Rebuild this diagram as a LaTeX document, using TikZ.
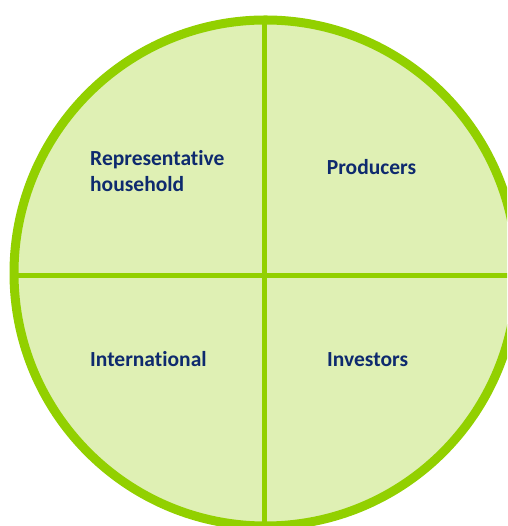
\documentclass[tikz,border=0pt]{standalone}
\usepackage{fontspec}
\setmainfont{Carlito}[Ligatures={NoCommon}]
\usetikzlibrary{shapes.geometric}
\definecolor{ringgreen}{RGB}{146,208,0}
\definecolor{fillgreen}{RGB}{223,240,180}
\definecolor{labelblue}{RGB}{14,42,110}
\tikzset{
  quadlabel/.style={font=\bfseries\fontsize{21.5}{26}\selectfont, text=labelblue, inner sep=0pt, align=left},
  divider/.style={draw=ringgreen}
}
\begin{document}
\begin{tikzpicture}[x=1pt,y=1pt]
\useasboundingbox (0,0) rectangle (507,526);
\clip (0,0) rectangle (507,526);
\fill[white] (0,0) rectangle (507,526);
\node[ellipse, fill=fillgreen, minimum width=503pt, minimum height=506pt, inner sep=0pt] (disc) at (265.5,253) {};
\coordinate (vtop) at (264.5,510);
\coordinate (vbot) at (264.5,-10);
\coordinate (hleft) at (15,250.7);
\coordinate (hright) at (520,250.7);
\draw[divider, line width=4.6pt] (vtop) -- (vbot);
\draw[divider, line width=5pt] (hleft) -- (hright);
\draw[draw=ringgreen, line width=9pt] (disc.center) ellipse [x radius=251.5pt, y radius=253pt];
\node[quadlabel, anchor=base west] (household) at (90,334.3) {Representative\\household};
\node[quadlabel, anchor=base west] (producers) at (326.7,351.7) {Producers};
\node[quadlabel, anchor=base west] (international) at (90,159.3) {International};
\node[quadlabel, anchor=base west] (investors) at (327,159.3) {Investors};
\end{tikzpicture}
\end{document}
